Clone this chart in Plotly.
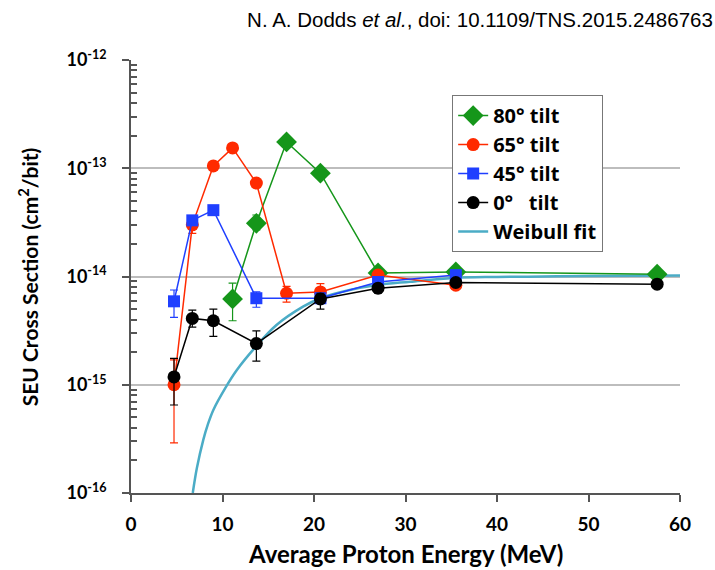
import plotly.graph_objects as go

# Proton energies (MeV) and SEU cross sections (cm^2/bit)
e80 = [11.1, 13.7, 17.0, 20.7, 27.0, 35.5, 57.5]
s80 = [6.2e-15, 3.1e-14, 1.75e-13, 9.0e-14, 1.08e-14, 1.1e-14, 1.05e-14]
lo80 = [3.9e-15, 2.7e-14, 1.7e-13, 8.7e-14, 1.0e-14, 1.03e-14, 9.6e-15]
hi80 = [8.7e-15, 3.7e-14, 1.8e-13, 9.3e-14, 1.17e-14, 1.17e-14, 1.13e-14]

e65 = [4.7, 6.7, 9.0, 11.1, 13.7, 17.0, 20.7, 27.0, 35.5]
s65 = [1.0e-15, 3.0e-14, 1.05e-13, 1.54e-13, 7.3e-14, 7.0e-15, 7.2e-15, 1.03e-14, 8.3e-15]
lo65 = [2.9e-16, 2.5e-14, 1.0e-13, 1.5e-13, 7.0e-14, 5.8e-15, 5.7e-15, 9.6e-15, 7.6e-15]
hi65 = [1.7e-15, 3.3e-14, 1.1e-13, 1.6e-13, 7.6e-14, 8.1e-15, 8.6e-15, 1.1e-14, 9.0e-15]

e45 = [4.7, 6.7, 9.0, 13.7, 20.7, 27.0, 35.5]
s45 = [5.9e-15, 3.3e-14, 4.1e-14, 6.3e-15, 6.3e-15, 8.9e-15, 1.03e-14]
lo45 = [4.2e-15, 3.1e-14, 3.9e-14, 5.2e-15, 5.6e-15, 8.3e-15, 9.7e-15]
hi45 = [7.5e-15, 3.5e-14, 4.3e-14, 7.2e-15, 7.0e-15, 9.5e-15, 1.09e-14]

e0 = [4.7, 6.7, 9.0, 13.7, 20.7, 27.0, 35.5, 57.5]
s0 = [1.18e-15, 4.1e-15, 3.9e-15, 2.4e-15, 6.2e-15, 7.8e-15, 8.8e-15, 8.5e-15]
lo0 = [6.5e-16, 3.4e-15, 2.8e-15, 1.65e-15, 5.0e-15, 7.0e-15, 8.2e-15, 7.9e-15]
hi0 = [1.75e-15, 4.9e-15, 5.0e-15, 3.15e-15, 7.0e-15, 8.5e-15, 9.4e-15, 9.1e-15]

# Weibull fit curve
ew = [6.75, 7.2, 7.9, 8.4, 9.0, 10.3, 11.55, 13.55, 15.9, 18.8, 20.7, 23.9, 26.9, 30.5,
      35.2, 40.0, 45.0, 50.0, 60.0]
sw = [1.0e-16, 1.7e-16, 3.1e-16, 4.3e-16, 5.85e-16, 9.3e-16, 1.36e-15, 2.2e-15, 3.56e-15,
      5.26e-15, 6.3e-15, 7.5e-15, 8.35e-15, 8.95e-15, 9.7e-15, 9.9e-15, 1.0e-14, 1.01e-14, 1.02e-14]

ytick_vals = [1e-16, 1e-15, 1e-14, 1e-13, 1e-12]
ytick_text = ["10<sup>-16</sup>", "10<sup>-15</sup>", "10<sup>-14</sup>",
              "10<sup>-13</sup>", "10<sup>-12</sup>"]
xtick_vals = [0, 10, 20, 30, 40, 50, 60]

FONT = "Lato"

# log minor ticks 2..9 in every decade
minor_vals = [m * 10.0 ** k for k in range(-16, -12) for m in range(2, 10)]


def err(y, lo, hi, color):
    return dict(type="data", symmetric=False,
                array=[h - v for v, h in zip(y, hi)],
                arrayminus=[v - l for v, l in zip(y, lo)],
                color=color, thickness=1.2, width=4)


fig = go.Figure()

fig.add_trace(go.Scatter(
    x=ew, y=sw, mode="lines", name="Weibull fit", legendrank=5,
    line=dict(color="#4BACC6", width=2.5, shape="spline"),
))

series = [
    ("80° tilt", e80, s80, lo80, hi80, "#15961a", "diamond", 16, 1),
    ("65° tilt", e65, s65, lo65, hi65, "#ff2a00", "circle", 13, 2),
    ("45° tilt", e45, s45, lo45, hi45, "#1f3fff", "square", 12, 3),
    ("0°\u00a0\u00a0\u00a0tilt", e0, s0, lo0, hi0, "#000000", "circle", 13, 4),
]
for name, x, y, lo, hi, col, sym, size, rank in series:
    fig.add_trace(go.Scatter(
        x=x, y=y, mode="lines+markers", name=name, legendrank=rank,
        line=dict(color=col, width=1.5),
        marker=dict(symbol=sym, size=size, color=col),
        error_y=err(y, lo, hi, col),
    ))

fig.update_layout(
    width=715, height=570,
    margin=dict(l=131, r=35, t=60, b=77),
    paper_bgcolor="white", plot_bgcolor="white",
    font=dict(family=FONT, color="black"),
    title=dict(text="N. A. Dodds <i>et al.</i>, doi: 10.1109/TNS.2015.2486763",
               x=0.997, xanchor="right", y=0.965, yanchor="middle",
               font=dict(family="Liberation Sans", size=20.5, color="black")),
    legend=dict(x=0.585, y=0.919, xanchor="left", yanchor="top",
                bordercolor="#777777", borderwidth=1, bgcolor="white",
                font=dict(family="Open Sans", size=20, color="black", weight="bold"),
                itemwidth=30, tracegroupgap=0),
    showlegend=True,
)

fig.update_xaxes(
    range=[0, 60], tickvals=xtick_vals,
    tickfont=dict(family=FONT, size=19, weight="bold"),
    showgrid=False, zeroline=False,
    showline=True, linecolor="#555555", linewidth=1.5,
    ticks="outside", ticklen=7, tickcolor="#555555", tickwidth=1.5,
    ticklabelstandoff=6,
)

fig.update_yaxes(
    type="log", range=[-16, -12],
    tickvals=ytick_vals, ticktext=ytick_text,
    tickfont=dict(family=FONT, size=18, weight="bold"),
    showgrid=True, gridcolor="#bdbdbd", gridwidth=1.5,
    zeroline=False,
    showline=True, linecolor="#555555", linewidth=1.5,
    ticks="outside", ticklen=7, tickcolor="#555555", tickwidth=1.5,
    ticklabelstandoff=12,
    minor=dict(tickmode="array", tickvals=minor_vals, ticks="inside", ticklen=6,
               tickcolor="#555555", tickwidth=1.5, showgrid=False),
)

fig.add_annotation(
    text="<b>SEU Cross Section (cm<sup>2</sup>/bit)</b>",
    xref="paper", yref="paper", x=-0.188, y=0.5,
    xanchor="center", yanchor="middle", textangle=-90, showarrow=False,
    font=dict(family=FONT, size=21, color="black"),
)
fig.add_annotation(
    text="<b>Average Proton Energy (MeV)</b>",
    xref="paper", yref="paper", x=0.5, y=-0.1386,
    xanchor="center", yanchor="middle", showarrow=False,
    font=dict(family=FONT, size=24, color="black"),
)

# page body margin would shift the figure by 8px
fig.write_html("out.html", config={"displayModeBar": False},
               post_script="document.body.style.margin='0px';")
